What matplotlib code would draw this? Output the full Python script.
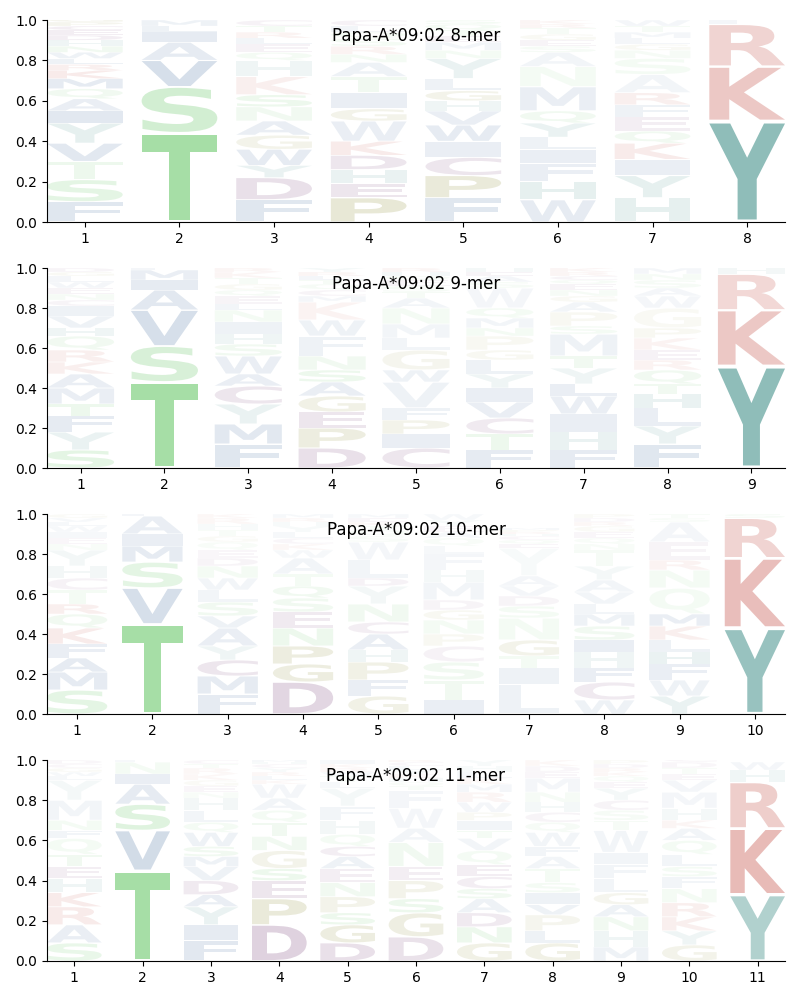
import matplotlib
matplotlib.use("Agg")
import matplotlib.pyplot as plt
from matplotlib.textpath import TextPath
from matplotlib.patches import PathPatch
from matplotlib.font_manager import FontProperties
from matplotlib.transforms import Affine2D

allele = "Papa-A*09:02"
lengths = [8, 9, 10, 11]

# letters bottom -> top for every position, with their heights (frequency) and opacity
letters_8 = [
    "FSTVYIAQMKRLWNHDECPG",
    "TSVAILM",
    "FDYWGANSKHQELRTC",
    "PEHDKWGITANRSQLC",
    "FPCIWVHGLYNMETQS",
    "WHFILYQMNASEGTRK",
    "HYIKQEFRASNGLMTW",
    "YKRLF",
]
heights_8 = [
    [.10, .11, .09, .09, .10, .06, .06, .05, .05, .04, .03, .03, .03, .03, .03, .025, .025, .02, .02, .02],
    [.44, .23, .13, .09, .05, .03, .03],
    [.11, .11, .06, .08, .07, .07, .07, .06, .09, .08, .04, .04, .03, .03, .03, .03],
    [.12, .07, .07, .07, .07, .10, .06, .08, .08, .07, .04, .04, .04, .03, .03, .03],
    [.12, .11, .09, .08, .08, .07, .05, .05, .06, .10, .04, .04, .03, .03, .03, .02],
    [.11, .09, .09, .07, .06, .07, .06, .12, .10, .07, .03, .03, .03, .03, .02, .02],
    [.12, .11, .08, .08, .06, .07, .06, .06, .09, .08, .04, .03, .03, .03, .03, .03],
    [.50, .27, .21, .01, .01],
]
alphas_8 = [
    [.15, .15, .10, .14, .12, .14, .10, .08, .12, .10, .08, .08, .08, .08, .08, .08, .08, .08, .08, .08],
    [.50, .25, .20, .12, .12, .08, .08],
    [.15, .15, .10, .12, .10, .10, .08, .10, .08, .08, .06, .06, .06, .06, .06, .06],
    [.20, .12, .10, .12, .10, .10, .10, .10, .08, .08, .06, .06, .06, .06, .06, .06],
    [.15, .18, .12, .10, .12, .10, .08, .10, .08, .10, .06, .06, .06, .06, .06, .06],
    [.12, .12, .10, .10, .08, .10, .08, .10, .06, .06, .05, .05, .05, .05, .05, .05],
    [.12, .12, .10, .10, .08, .08, .08, .08, .06, .06, .05, .05, .05, .05, .05, .05],
    [.55, .28, .22, .05, .05],
]

letters_9 = [
    "SYFTMAKRQHVICNEWLGD",
    "TSVAIML",
    "FMYCAWSHINLEQGTKR",
    "DPEGASNFWKMCQTLRY",
    "CIPFVWGLMNATSEQHR",
    "FTCVIYLGPNMQWSAEH",
    "FHIWLYTMSPAGNEQCRK",
    "FYLHTQREKPGWASNM",
    "YKRH",
]
heights_9 = [
    [.09, .09, .08, .06, .08, .07, .06, .06, .07, .04, .06, .05, .03, .03, .03, .03, .03, .02, .02],
    [.43, .18, .18, .10, .05, .05, .01],
    [.12, .10, .10, .09, .06, .09, .06, .05, .06, .06, .03, .04, .03, .03, .03, .03, .02],
    [.10, .10, .08, .08, .07, .06, .07, .10, .08, .09, .03, .03, .03, .02, .02, .02, .02],
    [.10, .07, .07, .06, .13, .06, .10, .06, .07, .08, .05, .03, .03, .03, .02, .02, .02],
    [.09, .08, .08, .08, .07, .07, .07, .05, .07, .04, .05, .05, .10, .03, .03, .02, .02],
    [.09, .09, .09, .09, .06, .08, .06, .11, .04, .07, .05, .03, .03, .03, .02, .02, .02, .02],
    [.12, .09, .09, .07, .05, .07, .05, .05, .06, .05, .10, .06, .04, .04, .03, .03],
    [.51, .28, .18, .03],
]
alphas_9 = [
    [.15, .10, .12, .10, .10, .10, .08, .08, .08, .08, .08, .08, .05, .05, .05, .05, .05, .05, .05],
    [.50, .22, .20, .14, .12, .10, .05],
    [.15, .14, .10, .12, .10, .10, .08, .08, .08, .06, .06, .05, .05, .05, .05, .05, .05],
    [.15, .15, .12, .12, .10, .10, .08, .08, .08, .06, .05, .05, .05, .05, .05, .05, .05],
    [.12, .10, .10, .08, .08, .08, .08, .06, .06, .06, .06, .05, .05, .05, .05, .05, .05],
    [.12, .10, .10, .10, .10, .08, .08, .06, .06, .06, .06, .06, .05, .05, .05, .05, .05],
    [.12, .10, .10, .10, .10, .08, .08, .08, .06, .06, .06, .05, .05, .05, .05, .05, .05, .05],
    [.15, .10, .10, .10, .08, .08, .06, .06, .06, .06, .05, .05, .05, .05, .05, .05],
    [.55, .28, .20, .06],
]

letters_10 = [
    "SMAFKQRTCHYNEIWLVG",
    "TVSMIAL",
    "FMCYAVSLWNDEQGTHRK",
    "DGPNESQTAWKCLYHRM",
    "GFPHACNYDLWSQTKEM",
    "ITSCPNGDMHFLQAEYW",
    "LITGNSDVAYEQCHRPM",
    "WCFHISMLVAYTNQEGRDP",
    "YWFHLKMQNREAST",
    "YKRS",
]
heights_10 = [
    [.12, .09, .07, .07, .08, .07, .05, .07, .06, .06, .08, .03, .03, .03, .03, .02, .02, .02],
    [.45, .18, .13, .08, .06, .09, .01],
    [.10, .09, .08, .07, .09, .06, .07, .06, .06, .06, .04, .04, .04, .03, .03, .03, .03, .02],
    [.16, .09, .09, .09, .08, .07, .06, .06, .08, .04, .03, .03, .03, .03, .02, .02, .02],
    [.09, .08, .09, .06, .08, .06, .09, .09, .04, .09, .09, .03, .03, .02, .02, .02, .02],
    [.07, .10, .09, .08, .06, .07, .05, .05, .09, .06, .08, .04, .04, .03, .03, .03, .03],
    [.15, .08, .06, .08, .11, .06, .05, .05, .05, .14, .02, .02, .02, .01, .01, .01, .01],
    [.07, .09, .07, .08, .06, .07, .06, .05, .06, .06, .07, .08, .03, .03, .03, .03, .02, .02, .02],
    [.09, .08, .08, .06, .06, .07, .06, .13, .09, .05, .09, .10, .02, .02],
    [.43, .35, .20, .02],
]
alphas_10 = [
    [.15, .12, .12, .10, .10, .08, .08, .06, .06, .06, .06, .04, .04, .04, .04, .04, .04, .04],
    [.50, .20, .15, .12, .10, .10, .05],
    [.12, .12, .12, .08, .10, .08, .08, .06, .06, .06, .05, .04, .04, .04, .04, .04, .04, .04],
    [.20, .15, .15, .10, .10, .08, .08, .06, .06, .04, .04, .04, .04, .04, .04, .04, .04],
    [.12, .10, .12, .08, .10, .08, .08, .06, .06, .06, .05, .04, .04, .04, .04, .04, .04],
    [.10, .08, .08, .06, .06, .06, .06, .05, .06, .05, .05, .04, .04, .04, .04, .04, .04],
    [.08, .08, .06, .10, .06, .06, .05, .05, .05, .04, .04, .04, .04, .04, .04, .04, .04],
    [.08, .10, .10, .08, .10, .08, .08, .06, .06, .06, .05, .05, .04, .04, .04, .04, .04, .04, .04],
    [.10, .08, .10, .10, .08, .08, .10, .06, .06, .06, .05, .05, .04, .04],
    [.50, .33, .22, .05],
]

letters_11 = [
    "SARKHETQFNMYLWGCD",
    "TVSAINL",
    "FIYADVMSWQLHNEGKRTC",
    "DPESGNTQAWKLRYCHM",
    "DGSPNEACQHFYLTWRKI",
    "DGSPENAWFTQHKYLCR",
    "GNDASCEQVTIPWRMKLHY",
    "GLPVISTAFWQCHNMEDKRY",
    "MHNAGLFIWTSCYEQKRDP",
    "GYKRNFSLQAKHMVETDCW",
    "YKRHW",
]
heights_11 = [
    [.09, .09, .09, .07, .07, .06, .06, .08, .04, .05, .10, .10, .02, .02, .02, .02, .02],
    [.45, .20, .13, .10, .05, .06, .01],
    [.10, .08, .09, .06, .07, .07, .05, .05, .07, .05, .06, .06, .03, .03, .03, .03, .03, .02, .02],
    [.18, .13, .09, .06, .09, .07, .07, .06, .06, .07, .02, .02, .02, .02, .02, .01, .01],
    [.09, .09, .06, .08, .07, .07, .06, .05, .06, .07, .07, .09, .03, .03, .02, .02, .02, .02],
    [.12, .12, .07, .09, .07, .12, .07, .10, .09, .02, .02, .02, .02, .02, .02, .02, .01],
    [.09, .08, .07, .07, .05, .06, .06, .07, .06, .04, .05, .04, .05, .05, .04, .03, .03, .03, .03],
    [.09, .06, .08, .05, .06, .05, .07, .06, .05, .07, .05, .05, .05, .05, .07, .03, .03, .03, .02, .02],
    [.07, .08, .07, .06, .06, .07, .07, .06, .11, .05, .05, .05, .06, .03, .03, .02, .02, .02, .02],
    [.08, .07, .07, .07, .07, .06, .05, .06, .07, .06, .04, .06, .08, .06, .03, .03, .03, .03, .02],
    [.33, .33, .23, .06, .04],
]
alphas_11 = [
    [.12, .10, .10, .10, .08, .08, .08, .06, .06, .06, .06, .05, .04, .04, .04, .04, .04],
    [.50, .22, .18, .12, .10, .06, .04],
    [.14, .12, .10, .10, .10, .08, .08, .08, .08, .06, .06, .06, .04, .04, .04, .04, .04, .04, .04],
    [.22, .18, .12, .10, .10, .08, .08, .06, .06, .05, .04, .04, .04, .04, .04, .04, .04],
    [.15, .15, .10, .10, .08, .08, .08, .08, .06, .06, .06, .05, .04, .04, .04, .04, .04, .04],
    [.14, .14, .10, .10, .08, .08, .06, .05, .05, .04, .04, .04, .04, .04, .04, .04, .04],
    [.12, .10, .10, .08, .08, .08, .08, .06, .06, .06, .06, .05, .05, .05, .05, .04, .04, .04, .04],
    [.12, .08, .08, .08, .08, .06, .06, .06, .06, .06, .05, .05, .05, .05, .05, .04, .04, .04, .04, .04],
    [.08, .08, .08, .08, .08, .06, .06, .06, .06, .05, .05, .05, .05, .04, .04, .04, .04, .04, .04],
    [.10, .08, .08, .08, .06, .06, .06, .06, .06, .06, .05, .05, .05, .05, .04, .04, .04, .04, .04],
    [.38, .35, .25, .07, .05],
]

# residue colours
group_colors = {
    "AVLIMFW": "#326096",
    "STNQ": "#4fbf4f",
    "YH": "#338780",
    "KR": "#be3c32",
    "DEC": "#6e326e",
    "PG": "#8c8c32",
}
color_of = {}
for k, v in group_colors.items():
    for ch in k:
        color_of[ch] = v

fp = FontProperties(family="DejaVu Sans", weight="bold")
glyph_cache = {}


def glyph(ch):
    if ch not in glyph_cache:
        tp = TextPath((0, 0), ch, size=1, prop=fp)
        glyph_cache[ch] = (tp, tp.get_extents())
    return glyph_cache[ch]


def draw_letter(ax, ch, xc, y0, h, alpha, width=0.8, vpad=0.05):
    tp, bb = glyph(ch)
    hh = h * (1 - vpad)
    tr = (Affine2D().translate(-bb.x0, -bb.y0)
          .scale(width / bb.width, hh / bb.height)
          .translate(xc - width / 2, y0 + h * vpad / 2))
    path = tr.transform_path(tp)
    ax.add_patch(PathPatch(path, facecolor=color_of[ch], edgecolor="none",
                           lw=0, alpha=alpha))


panels = [
    (letters_8, heights_8, alphas_8),
    (letters_9, heights_9, alphas_9),
    (letters_10, heights_10, alphas_10),
    (letters_11, heights_11, alphas_11),
]

fig = plt.figure(figsize=(8, 10), dpi=100)
bottoms = [0.778, 0.532, 0.286, 0.039]
heights_ax = [0.202, 0.200, 0.200, 0.201]

for (L, H, A), n, b, hax in zip(panels, lengths, bottoms, heights_ax):
    ax = fig.add_axes([0.05875, b, 0.9225, hax])
    for i in range(n):
        y = 0.0
        for ch, h, a in zip(L[i], H[i], A[i]):
            draw_letter(ax, ch, i + 1, y, h, a)
            y += h
    ax.set_xlim(0.6, n + 0.4)
    ax.set_ylim(0, 1)
    ax.set_xticks(range(1, n + 1))
    ax.set_yticks([0, 0.2, 0.4, 0.6, 0.8, 1.0])
    ax.set_yticklabels(["0.0", "0.2", "0.4", "0.6", "0.8", "1.0"])
    ax.spines["top"].set_visible(False)
    ax.spines["right"].set_visible(False)
    ax.text(0.5, 0.92, f"{allele} {n}-mer", transform=ax.transAxes,
            ha="center", va="center", fontsize=12, zorder=10)

fig.savefig("out.png", dpi=100)
